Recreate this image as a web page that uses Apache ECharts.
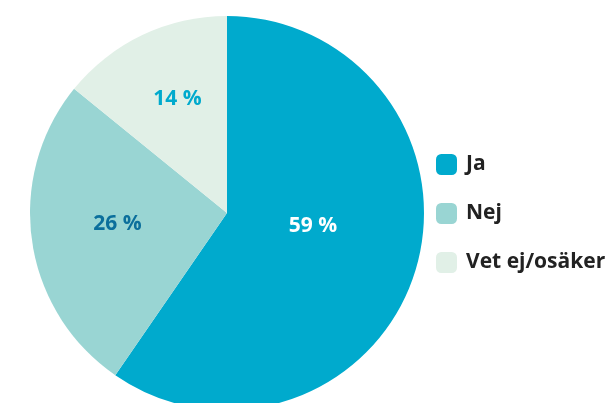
<!DOCTYPE html>
<html>
<head>
<meta charset="utf-8">
<script src="https://cdn.jsdelivr.net/npm/echarts@6/dist/echarts.min.js"></script>
<style>
html,body{margin:0;padding:0;background:#fff;}
#chart{width:608px;height:403px;}
</style>
</head>
<body>
<div id="chart"></div>
<script>
var categories = ['Ja', 'Nej', 'Vet ej/osäker'];
var values = [59, 26, 14];

var colors = ['#00aacd', '#99d5d3', '#e1f0e7'];
var labelColors = ['#ffffff', '#0b6f9c', '#00aacd'];
var labelOffsets = [[-11, -17], [-9, -3], [-6, -22]];

var pieData = [];
for (var i = 0; i < categories.length; i++) {
	pieData.push({
		name: categories[i],
		value: values[i],
		itemStyle: { color: colors[i] },
		label: { color: labelColors[i], offset: labelOffsets[i] }
	});
}

var myChart = echarts.init(document.getElementById('chart'));
var option = {
	backgroundColor: '#fff',
	animation: false,
	legend: {
		orient: 'vertical',
		left: 436,
		top: 154,
		padding: 0,
		itemWidth: 21,
		itemHeight: 21,
		itemGap: 28,
		icon: 'roundRect',
		selectedMode: false,
		textStyle: {
			fontFamily: 'Open Sans',
			fontWeight: 'bold',
			fontSize: 21,
			color: '#222',
			padding: [0, 0, 0, 4]
		},
		data: categories
	},
	series: [{
		type: 'pie',
		center: [227, 213],
		radius: [0, 197],
		startAngle: 90,
		clockwise: true,
		silent: true,
		label: {
			show: true,
			position: 'inside',
			formatter: '{c} %',
			fontFamily: 'Open Sans',
			fontWeight: 'bold',
			fontSize: 21
		},
		labelLine: { show: false },
		data: pieData
	}]
};
myChart.setOption(option);
</script>
</body>
</html>
